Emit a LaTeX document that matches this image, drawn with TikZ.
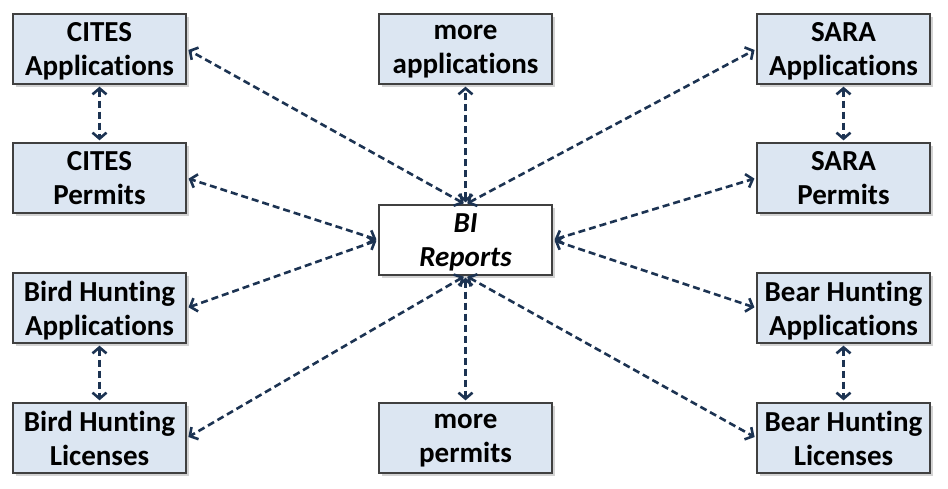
\documentclass[tikz,border=0pt]{standalone}
\usepackage{fontspec}
\setmainfont[Ligatures=NoCommon]{Carlito}
\usetikzlibrary{arrows.meta,shadows}
\definecolor{boxblue}{HTML}{DCE6F2}
\definecolor{linkblue}{HTML}{1C3352}

\tikzset{
	sys/.style={draw=black!75, line width=1.3pt, fill=boxblue, minimum width=173pt, minimum height=70pt,
		inner sep=0pt, align=center, text depth=0pt, font=\fontsize{29}{34}\selectfont\bfseries,
		drop shadow={shadow xshift=2.5pt, shadow yshift=-2.5pt, opacity=.35}},
	rep/.style={sys, fill=white, font=\fontsize{29}{34}\selectfont\bfseries\itshape},
	link/.style={draw=linkblue, line width=2.6pt, dash pattern=on 7pt off 4pt,
		{Straight Barb[length=6pt,width=14pt]}-{Straight Barb[length=6pt,width=14pt]},
		shorten <=2pt, shorten >=2pt}
}

\begin{document}
\begin{tikzpicture}[x=1pt, y=-1pt]
	\useasboundingbox (0,0) rectangle (948,488);
	% left column
	\node[sys] (citesapp)  at (99.5,49)  {CITES\\Applications};
	\node[sys] (citesperm) at (99.5,178) {CITES\\Permits};
	\node[sys] (birdapp)   at (99.5,308) {Bird Hunting\\Applications};
	\node[sys] (birdlic)   at (99.5,438) {Bird Hunting\\Licenses};
	% middle
	\node[sys] (moreapp)   at (465.5,49)  {more\\applications};
	\node[rep] (bi)        at (465.5,240) {BI\\Reports};
	\node[sys] (moreperm)  at (465.5,438) {more\\permits};
	% right column
	\node[sys] (saraapp)   at (843.5,49)  {SARA\\Applications};
	\node[sys] (saraperm)  at (843.5,178) {SARA\\Permits};
	\node[sys] (bearapp)   at (843.5,308) {Bear Hunting\\Applications};
	\node[sys] (bearlic)   at (843.5,438) {Bear Hunting\\Licenses};
	% links to the reports
	\draw[link] (bi.north) -- (citesapp.east);
	\draw[link] (bi.north) -- (moreapp.south);
	\draw[link] (bi.north) -- (saraapp.west);
	\draw[link] (bi.west)  -- (citesperm.east);
	\draw[link] (bi.west)  -- (birdapp.east);
	\draw[link] (bi.east)  -- (saraperm.west);
	\draw[link] (bi.east)  -- (bearapp.west);
	\draw[link] (bi.south) -- (birdlic.east);
	\draw[link] (bi.south) -- (moreperm.north);
	\draw[link] (bi.south) -- (bearlic.west);
	% pairs
	\draw[link] (citesapp.south) -- (citesperm.north);
	\draw[link] (birdapp.south)  -- (birdlic.north);
	\draw[link] (saraapp.south)  -- (saraperm.north);
	\draw[link] (bearapp.south)  -- (bearlic.north);
\end{tikzpicture}
\end{document}
